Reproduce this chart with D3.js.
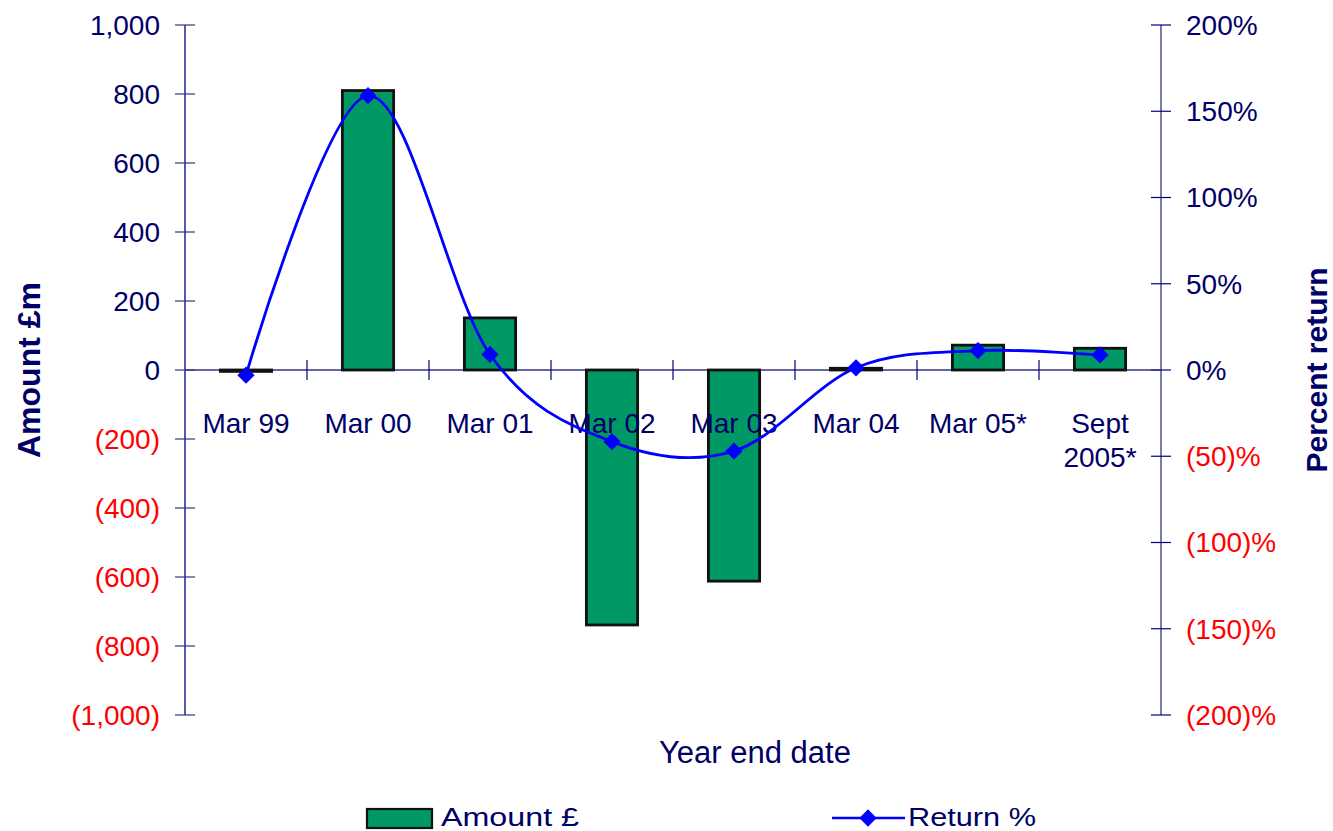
<!DOCTYPE html>
<html>
<head>
<meta charset="utf-8">
<script src="https://cdn.jsdelivr.net/npm/d3@7"></script>
<style>
  body { margin: 0; background: #fff; }
  text { font-family: "Liberation Sans", Arial, sans-serif; }
</style>
</head>
<body>
<div id="chart"></div>
<script>
// data
var categories = ["Mar 99", "Mar 00", "Mar 01", "Mar 02", "Mar 03", "Mar 04", "Mar 05*", "Sept 2005*"];
var amounts = [-4, 810, 151, -739, -612, 5, 72, 63];
var returns = [-3, 159, 9, -41.5, -47, 1.3, 11.2, 8.7];
var leftTicks = [-1000, -800, -600, -400, -200, 0, 200, 400, 600, 800, 1000];
var rightTicks = [-200, -150, -100, -50, 0, 50, 100, 150, 200];

var width = 1333, height = 831;
var plotLeft = 185, plotRight = 1161, plotTop = 25, plotBottom = 715;
var navy = "#000080", textCol = "#000066", red = "#ff0000";

var svg = d3.select("#chart").append("svg")
  .attr("width", width)
  .attr("height", height);

var x = d3.scaleBand().domain(categories).range([plotLeft, plotRight]).padding(0);
var yL = d3.scaleLinear().domain([-1000, 1000]).range([plotBottom, plotTop]);
var yR = d3.scaleLinear().domain([-200, 200]).range([plotBottom, plotTop]);

var fmtL = function(d) {
  return d < 0 ? "(" + d3.format(",")(-d) + ")" : d3.format(",")(d);
};
var fmtR = function(d) {
  return d < 0 ? "(" + (-d) + ")%" : d + "%";
};

// left axis
var gl = svg.append("g").attr("transform", "translate(" + plotLeft + ",0)");
gl.append("line").attr("y1", plotTop).attr("y2", plotBottom).attr("stroke", navy).attr("stroke-width", 1.3);
gl.selectAll(".tk").data(leftTicks).enter().append("line")
  .attr("x1", -10).attr("x2", 10)
  .attr("y1", function(d) { return yL(d); })
  .attr("y2", function(d) { return yL(d); })
  .attr("stroke", "#333388").attr("stroke-width", 1.2);
gl.selectAll(".lb").data(leftTicks).enter().append("text")
  .attr("x", -25)
  .attr("y", function(d) { return yL(d); })
  .attr("dy", "0.35em")
  .attr("text-anchor", "end")
  .attr("font-size", 28)
  .attr("fill", function(d) { return d < 0 ? red : textCol; })
  .text(fmtL);

// right axis
var gr = svg.append("g").attr("transform", "translate(" + plotRight + ",0)");
gr.append("line").attr("y1", plotTop).attr("y2", plotBottom).attr("stroke", "#333388").attr("stroke-width", 1.3);
gr.selectAll(".tk").data(rightTicks).enter().append("line")
  .attr("x1", -10).attr("x2", 10)
  .attr("y1", function(d) { return yR(d); })
  .attr("y2", function(d) { return yR(d); })
  .attr("stroke", navy).attr("stroke-width", 1.2);
gr.selectAll(".lb").data(rightTicks).enter().append("text")
  .attr("x", 25)
  .attr("y", function(d) { return yR(d); })
  .attr("dy", "0.35em")
  .attr("font-size", 28)
  .attr("fill", function(d) { return d < 0 ? red : textCol; })
  .text(fmtR);

// category axis along zero
var y0 = yL(0);
svg.append("line").attr("x1", plotLeft).attr("x2", plotRight).attr("y1", y0).attr("y2", y0)
  .attr("stroke", "#333388").attr("stroke-width", 1.3);
svg.selectAll(".ctk").data(categories.slice(1)).enter().append("line")
  .attr("x1", function(d) { return x(d); })
  .attr("x2", function(d) { return x(d); })
  .attr("y1", y0 - 10).attr("y2", y0 + 10)
  .attr("stroke", navy).attr("stroke-width", 1.2);

// bars
var bw = x.bandwidth() * 0.42;
svg.selectAll(".bar").data(amounts).enter().append("rect")
  .attr("x", function(d, i) { return x(categories[i]) + x.bandwidth() / 2 - bw / 2; })
  .attr("y", function(d) { return Math.min(yL(d), yL(0)); })
  .attr("width", bw)
  .attr("height", function(d) { return Math.abs(yL(d) - yL(0)); })
  .attr("fill", "#009966")
  .attr("stroke", "#111")
  .attr("stroke-width", 2.8);

// category labels
var cl = svg.selectAll(".cl").data(categories).enter().append("text")
  .attr("text-anchor", "middle")
  .attr("font-size", 28)
  .attr("fill", textCol);
cl.each(function(d) {
  var t = d3.select(this);
  var cx = x(d) + x.bandwidth() / 2;
  var parts = d.indexOf("Sept") === 0 ? ["Sept", d.slice(5)] : [d];
  parts.forEach(function(p, k) {
    t.append("tspan").attr("x", cx).attr("y", 433 + k * 34).text(p);
  });
});

// return line
var line = d3.line()
  .x(function(d, i) { return x(categories[i]) + x.bandwidth() / 2; })
  .y(function(d) { return yR(d); })
  .curve(d3.curveCatmullRom.alpha(0));
svg.append("path").datum(returns)
  .attr("d", line)
  .attr("fill", "none")
  .attr("stroke", "#0000ff")
  .attr("stroke-width", 2.8);

var diamond = d3.symbol().type(d3.symbolDiamond2).size(190);
svg.selectAll(".pt").data(returns).enter().append("path")
  .attr("d", diamond)
  .attr("transform", function(d, i) {
    return "translate(" + (x(categories[i]) + x.bandwidth() / 2) + "," + yR(d) + ")";
  })
  .attr("fill", "#0000ff");

// axis titles
svg.append("text")
  .attr("transform", "translate(40,370) rotate(-90)")
  .attr("text-anchor", "middle")
  .attr("font-size", 32).attr("font-weight", "bold")
  .attr("fill", textCol)
  .text("Amount £m");
svg.append("text")
  .attr("transform", "translate(1327,370) rotate(-90)")
  .attr("text-anchor", "middle")
  .attr("font-size", 30).attr("font-weight", "bold")
  .attr("fill", textCol)
  .text("Percent return");
svg.append("text")
  .attr("x", 755).attr("y", 763)
  .attr("text-anchor", "middle")
  .attr("font-size", 31)
  .attr("fill", textCol)
  .text("Year end date");

// legend
svg.append("rect").attr("x", 367).attr("y", 809).attr("width", 65).attr("height", 19)
  .attr("fill", "#009966").attr("stroke", "#111").attr("stroke-width", 2.2);
svg.append("text").attr("x", 441).attr("y", 826)
  .attr("font-size", 26).attr("fill", textCol)
  .attr("textLength", 138).attr("lengthAdjust", "spacingAndGlyphs")
  .text("Amount £");
svg.append("line").attr("x1", 832).attr("x2", 905).attr("y1", 818).attr("y2", 818)
  .attr("stroke", "#0000ff").attr("stroke-width", 2.6);
svg.append("path").attr("d", diamond).attr("transform", "translate(868,818)").attr("fill", "#0000ff");
svg.append("text").attr("x", 908).attr("y", 826)
  .attr("font-size", 26).attr("fill", textCol)
  .attr("textLength", 128).attr("lengthAdjust", "spacingAndGlyphs")
  .text("Return %");
</script>
</body>
</html>
